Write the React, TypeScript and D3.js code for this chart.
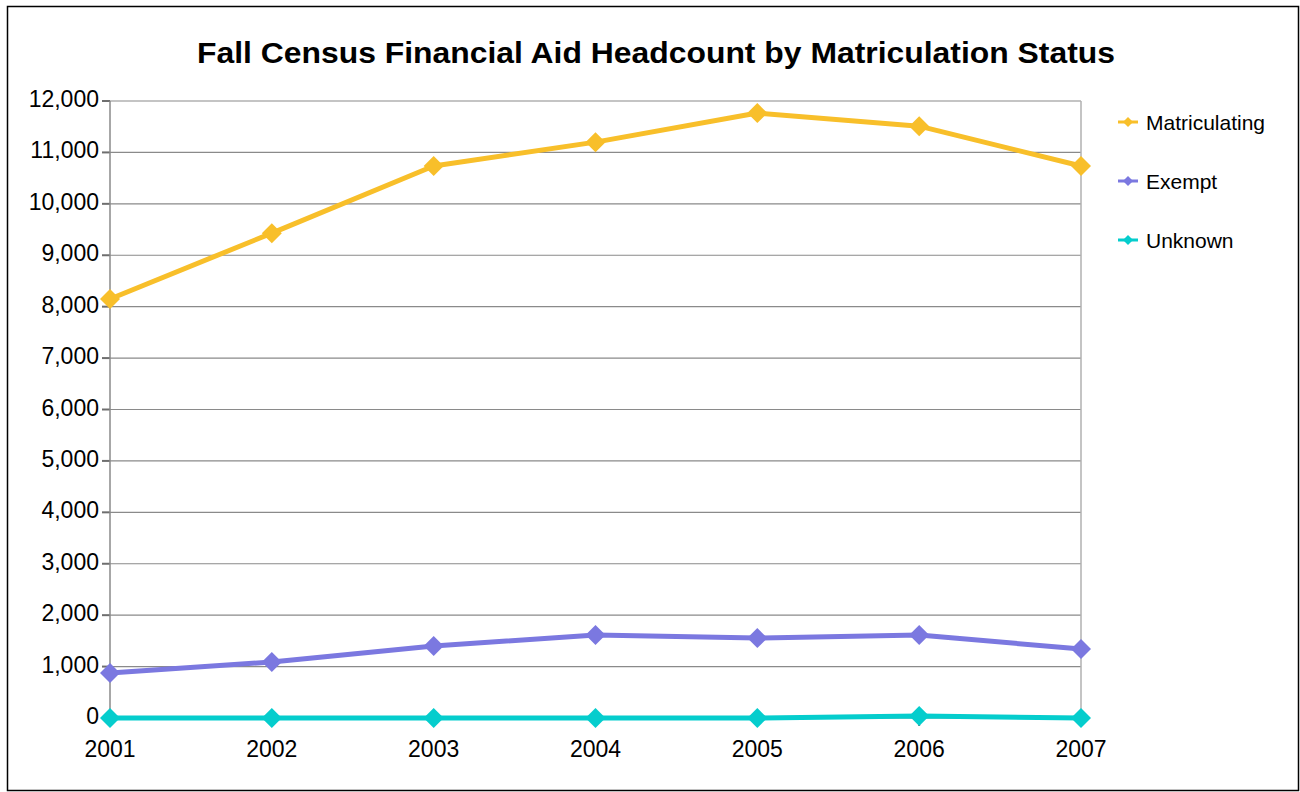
import React from "react";
import * as d3 from "d3";

const years = ["2001", "2002", "2003", "2004", "2005", "2006", "2007"];
const matriculating = [8150, 9430, 10735, 11200, 11765, 11510, 10735];
const exempt = [875, 1090, 1400, 1615, 1555, 1615, 1340];
const unknown = [0, 0, 0, 0, 0, 40, 0];
const yTicks = [0, 1000, 2000, 3000, 4000, 5000, 6000, 7000, 8000, 9000, 10000, 11000, 12000];
const seriesNames = ["Matriculating", "Exempt", "Unknown"];
const seriesColors = ["#F8BF2A", "#7B78E0", "#05CDCD"];

const W = 1300, H = 792;
const L = 110, R = 1081, T = 101, B = 718;

export default function App() {
  const x = d3.scalePoint<string>().domain(years).range([L, R]);
  const y = d3.scaleLinear().domain([0, 12000]).range([B, T]);
  const fmt = d3.format(",");
  const data = [matriculating, exempt, unknown];
  const line = d3.line<number>().x((_, i) => x(years[i])!).y((d) => y(d));
  const diamond = (cx: number, cy: number, r: number) =>
    `M${cx},${cy - r}L${cx + r},${cy}L${cx},${cy + r}L${cx - r},${cy}Z`;
  const font = "'Liberation Sans', Arial, sans-serif";
  return (
    <svg width={W} height={H} style={{ position: "absolute", left: 0, top: 0 }} fontFamily={font}>
      <rect x={0} y={0} width={W} height={H} fill="#fff" />
      <rect x={7.5} y={6.5} width={1291} height={784} fill="none" stroke="#000" strokeWidth={1.5} />
      <text x={197} y={63} fontSize={29} fontWeight="bold" textLength={918} lengthAdjust="spacingAndGlyphs">
        Fall Census Financial Aid Headcount by Matriculation Status
      </text>
      {yTicks.map((t) => (
        <g key={t}>
          <line x1={L} x2={R} y1={y(t)} y2={y(t)} stroke="#8a8a8a" strokeWidth={1.2} />
          <line x1={L - 8} x2={L} y1={y(t)} y2={y(t)} stroke="#6e6e6e" strokeWidth={2} />
          <text x={L - 11} y={y(t) + 6} textAnchor="end" fontSize={23}>{fmt(t)}</text>
        </g>
      ))}
      <line x1={L} x2={L} y1={T} y2={B} stroke="#8a8a8a" strokeWidth={1.5} />
      <line x1={R} x2={R} y1={T} y2={B} stroke="#b0b0b0" strokeWidth={1.5} />
      {years.map((yr) => (
        <g key={yr}>
          <line x1={x(yr)} x2={x(yr)} y1={B} y2={B + 8} stroke="#6e6e6e" strokeWidth={2} />
          <text x={x(yr)} y={B + 39} textAnchor="middle" fontSize={23}>{yr}</text>
        </g>
      ))}
      {data.map((s, si) => (
        <g key={si}>
          <path d={line(s)!} fill="none" stroke={seriesColors[si]} strokeWidth={5} strokeLinejoin="round" />
          {s.map((v, i) => (
            <path key={i} d={diamond(x(years[i])!, y(v), 10)} fill={seriesColors[si]} />
          ))}
        </g>
      ))}
      {seriesNames.map((n, i) => {
        const ly = 122 + i * 59;
        return (
          <g key={n}>
            <line x1={1118} x2={1138} y1={ly} y2={ly} stroke={seriesColors[i]} strokeWidth={3} />
            <path d={diamond(1128, ly, 5)} fill={seriesColors[i]} />
            <text x={1146} y={ly + 8} fontSize={21}>{n}</text>
          </g>
        );
      })}
    </svg>
  );
}
